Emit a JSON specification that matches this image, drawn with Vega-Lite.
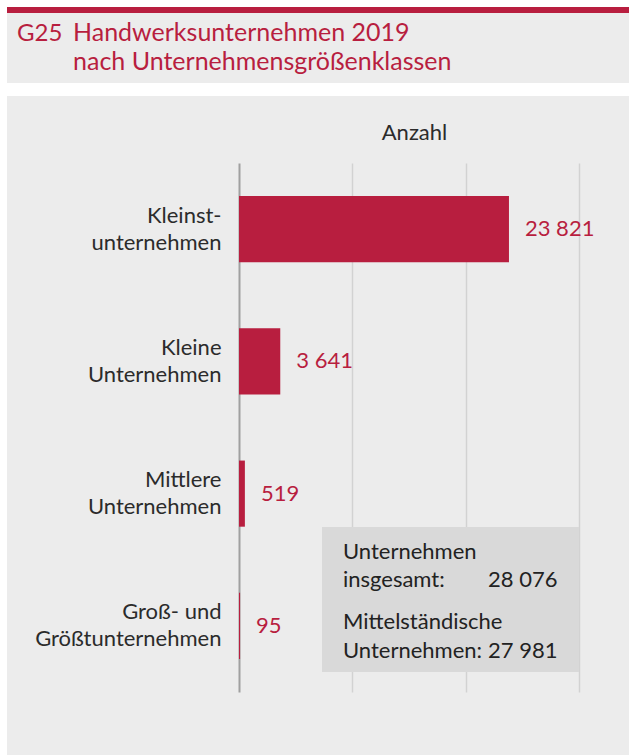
{
  "$schema": "https://vega.github.io/schema/vega-lite/v6.json",
  "width": 340,
  "height": 529,
  "autosize": {"type": "none"},
  "padding": {"left": 239, "top": 163, "right": 50, "bottom": 63},
  "background": "#ececec",
  "config": {
    "view": {"stroke": null},
    "font": "Lato",
    "locale": {"number": {"decimal": ",", "thousands": " ", "grouping": [3], "currency": ["", " €"]}}
  },
  "datasets": {
    "betriebe": [
      {"klasse": "Kleinstunternehmen", "anzahl": 23821},
      {"klasse": "Kleine Unternehmen", "anzahl": 3641},
      {"klasse": "Mittlere Unternehmen", "anzahl": 519},
      {"klasse": "Groß- und Größtunternehmen", "anzahl": 95}
    ],
    "summe": [{"insgesamt": 28076, "mittelstaendisch": 27981}],
    "eins": [{}]
  },
  "layer": [
    {
      "data": {"name": "eins"},
      "mark": {"type": "rect", "color": "#ffffff"},
      "encoding": {"x": {"value": -239}, "x2": {"value": 390}, "y": {"value": -163}, "y2": {"value": -156}}
    },
    {
      "data": {"name": "eins"},
      "mark": {"type": "rect", "color": "#b81e3f"},
      "encoding": {"x": {"value": -239}, "x2": {"value": 390}, "y": {"value": -156}, "y2": {"value": -150}}
    },
    {
      "data": {"name": "eins"},
      "mark": {"type": "rect", "color": "#ffffff"},
      "encoding": {"x": {"value": -239}, "x2": {"value": 390}, "y": {"value": -80}, "y2": {"value": -67}}
    },
    {
      "data": {"name": "eins"},
      "mark": {"type": "rect", "color": "#ffffff"},
      "encoding": {"x": {"value": -239}, "x2": {"value": -232}, "y": {"value": -163}, "y2": {"value": 592}}
    },
    {
      "data": {"name": "eins"},
      "mark": {"type": "text", "text": "G25", "fontSize": 24, "color": "#b81e3f", "align": "left", "baseline": "alphabetic"},
      "encoding": {"x": {"value": -222}, "y": {"value": -122}}
    },
    {
      "data": {"name": "eins"},
      "mark": {"type": "text", "text": "Handwerksunternehmen 2019", "fontSize": 25, "color": "#b81e3f", "align": "left", "baseline": "alphabetic"},
      "encoding": {"x": {"value": -166}, "y": {"value": -122}}
    },
    {
      "data": {"name": "eins"},
      "mark": {"type": "text", "text": "nach Unternehmensgrößenklassen", "fontSize": 25, "color": "#b81e3f", "align": "left", "baseline": "alphabetic"},
      "encoding": {"x": {"value": -166}, "y": {"value": -93}}
    },
    {
      "data": {"name": "betriebe"},
      "mark": {"type": "bar", "color": "#b81e3f"},
      "encoding": {
        "y": {
          "field": "klasse", "type": "nominal", "sort": null,
          "scale": {"paddingInner": 0.5, "paddingOuter": 0.25},
          "axis": {
            "title": null, "domain": false, "ticks": false, "grid": false,
            "labelFontSize": 22, "labelColor": "#2b2b2b", "labelPadding": 18,
            "labelLineHeight": 27, "labelFont": "Lato", "labelLimit": 300, "labelOffset": -13.5,
            "labelExpr": "datum.value == 'Kleinstunternehmen' ? ['Kleinst-', 'unternehmen'] : datum.value == 'Kleine Unternehmen' ? ['Kleine', 'Unternehmen'] : datum.value == 'Mittlere Unternehmen' ? ['Mittlere', 'Unternehmen'] : ['Groß- und', 'Größtunternehmen']"
          }
        },
        "x": {
          "field": "anzahl", "type": "quantitative",
          "scale": {"domain": [0, 30000], "nice": false},
          "axis": {
            "orient": "top", "title": "Anzahl", "labels": false, "ticks": false, "domain": false,
            "values": [0, 10000, 20000, 30000],
            "grid": true,
            "gridColor": {"condition": {"test": "datum.value === 0", "value": "#a0a0a0"}, "value": "#d2d2d2"},
            "gridWidth": {"condition": {"test": "datum.value === 0", "value": 2}, "value": 1.5},
            "titleFontSize": 22, "titleFontWeight": "normal", "titleColor": "#2b2b2b", "titleFont": "Lato",
            "titleX": 175, "titleY": -24, "titleAlign": "center", "titleBaseline": "alphabetic"
          }
        }
      }
    },
    {
      "data": {"name": "betriebe"},
      "mark": {"type": "text", "align": "left", "baseline": "middle", "dx": 16, "fontSize": 22, "color": "#b81e3f"},
      "encoding": {
        "y": {"field": "klasse", "type": "nominal", "sort": null},
        "x": {"field": "anzahl", "type": "quantitative"},
        "text": {"field": "anzahl", "type": "quantitative", "format": ",d"}
      }
    },
    {
      "data": {"name": "eins"},
      "mark": {"type": "rect", "color": "#d9d9d9"},
      "encoding": {"x": {"value": 83}, "x2": {"value": 340}, "y": {"value": 364}, "y2": {"value": 509}}
    },
    {
      "data": {"name": "eins"},
      "mark": {"type": "text", "text": "Unternehmen", "fontSize": 22, "color": "#222222", "align": "left", "baseline": "alphabetic"},
      "encoding": {"x": {"value": 104}, "y": {"value": 396}}
    },
    {
      "data": {"name": "eins"},
      "mark": {"type": "text", "text": "insgesamt:", "fontSize": 22, "color": "#222222", "align": "left", "baseline": "alphabetic"},
      "encoding": {"x": {"value": 104}, "y": {"value": 424}}
    },
    {
      "data": {"name": "eins"},
      "mark": {"type": "text", "text": "Mittelständische", "fontSize": 22, "color": "#222222", "align": "left", "baseline": "alphabetic"},
      "encoding": {"x": {"value": 104}, "y": {"value": 466}}
    },
    {
      "data": {"name": "eins"},
      "mark": {"type": "text", "text": "Unternehmen:", "fontSize": 22, "color": "#222222", "align": "left", "baseline": "alphabetic"},
      "encoding": {"x": {"value": 104}, "y": {"value": 495}}
    },
    {
      "data": {"name": "summe"},
      "mark": {"type": "text", "fontSize": 22, "color": "#222222", "align": "left", "baseline": "alphabetic"},
      "encoding": {"x": {"value": 249}, "y": {"value": 424}, "text": {"field": "insgesamt", "type": "quantitative", "format": ",d"}}
    },
    {
      "data": {"name": "summe"},
      "mark": {"type": "text", "fontSize": 22, "color": "#222222", "align": "left", "baseline": "alphabetic"},
      "encoding": {"x": {"value": 249}, "y": {"value": 495}, "text": {"field": "mittelstaendisch", "type": "quantitative", "format": ",d"}}
    }
  ]
}
